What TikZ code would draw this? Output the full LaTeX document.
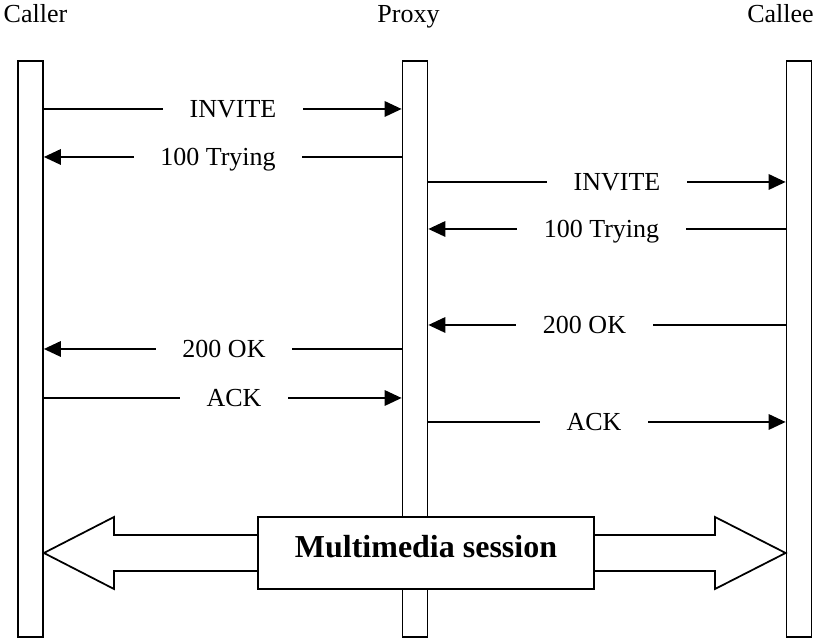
\documentclass[tikz,border=0pt]{standalone}
\usepackage{fontspec}
\setmainfont{Liberation Serif}
\usepackage{tikz}
\usetikzlibrary{positioning,arrows.meta}
\tikzset{lifeline/.style={draw,line width=1pt,fill=white,inner sep=0pt,minimum width=0.5cm,minimum height=11.52cm},
	msg/.style={line width=1pt,-{Triangle[length=0.34cm,width=0.31cm]}},
	msglabel/.style={fill=white,inner xsep=0.53cm,inner ysep=0pt,anchor=base,yshift=-0.17cm,font=\fontsize{14.8}{17}\selectfont},
	party/.style={anchor=base,inner sep=0pt,font=\fontsize{14.8}{17}\selectfont}}

\begin{document}
\begin{tikzpicture}
	\useasboundingbox (0,0) rectangle (16.28,12.8);
	% parties
	\node[party] (tcaller) at (0.71,12.34) {Caller};
	\node[party] (tproxy) at (8.17,12.34) {Proxy};
	\node[party] (tcallee) at (15.61,12.34) {Callee};
	\node[lifeline] (caller) at (0.61,5.82) {};
	\node[lifeline] (proxy) at (8.30,5.82) {};
	\node[lifeline] (callee) at (15.98,5.82) {};
	% signalling
	\foreach \y/\s/\t/\lx/\txt [count=\i] in {10.62/caller.east/proxy.west/4.66/INVITE,
			9.66/proxy.west/caller.east/4.36/100 Trying,
			9.16/proxy.east/callee.west/12.34/INVITE,
			8.22/callee.west/proxy.east/12.03/100 Trying,
			6.30/callee.west/proxy.east/11.69/200 OK,
			5.82/proxy.west/caller.east/4.48/200 OK,
			4.84/caller.east/proxy.west/4.68/ACK,
			4.36/proxy.east/callee.west/11.88/ACK}{
		\coordinate (row) at (0,\y);
		\draw[msg] (\s |- row) -- (\t |- row);
		\node[msglabel] (m\i) at (\lx,\y) {\txt};
	}
	% media between the two ends
	\coordinate (media) at (0,1.74);
	\draw[line width=1pt,fill=white] (caller.east |- media) -- (2.28,2.46) -- (2.28,2.10) -- (14.30,2.10) -- (14.30,2.46)
		-- (callee.west |- media) -- (14.30,1.02) -- (14.30,1.38) -- (2.28,1.38) -- (2.28,1.02) -- cycle;
	\node[draw,line width=1pt,fill=white,minimum width=6.72cm,minimum height=1.44cm,text height=0.44cm,text depth=0.24cm,
		font=\bfseries\fontsize{18.2}{22}\selectfont] (session) at (8.52,1.74) {Multimedia session};
\end{tikzpicture}
\end{document}
